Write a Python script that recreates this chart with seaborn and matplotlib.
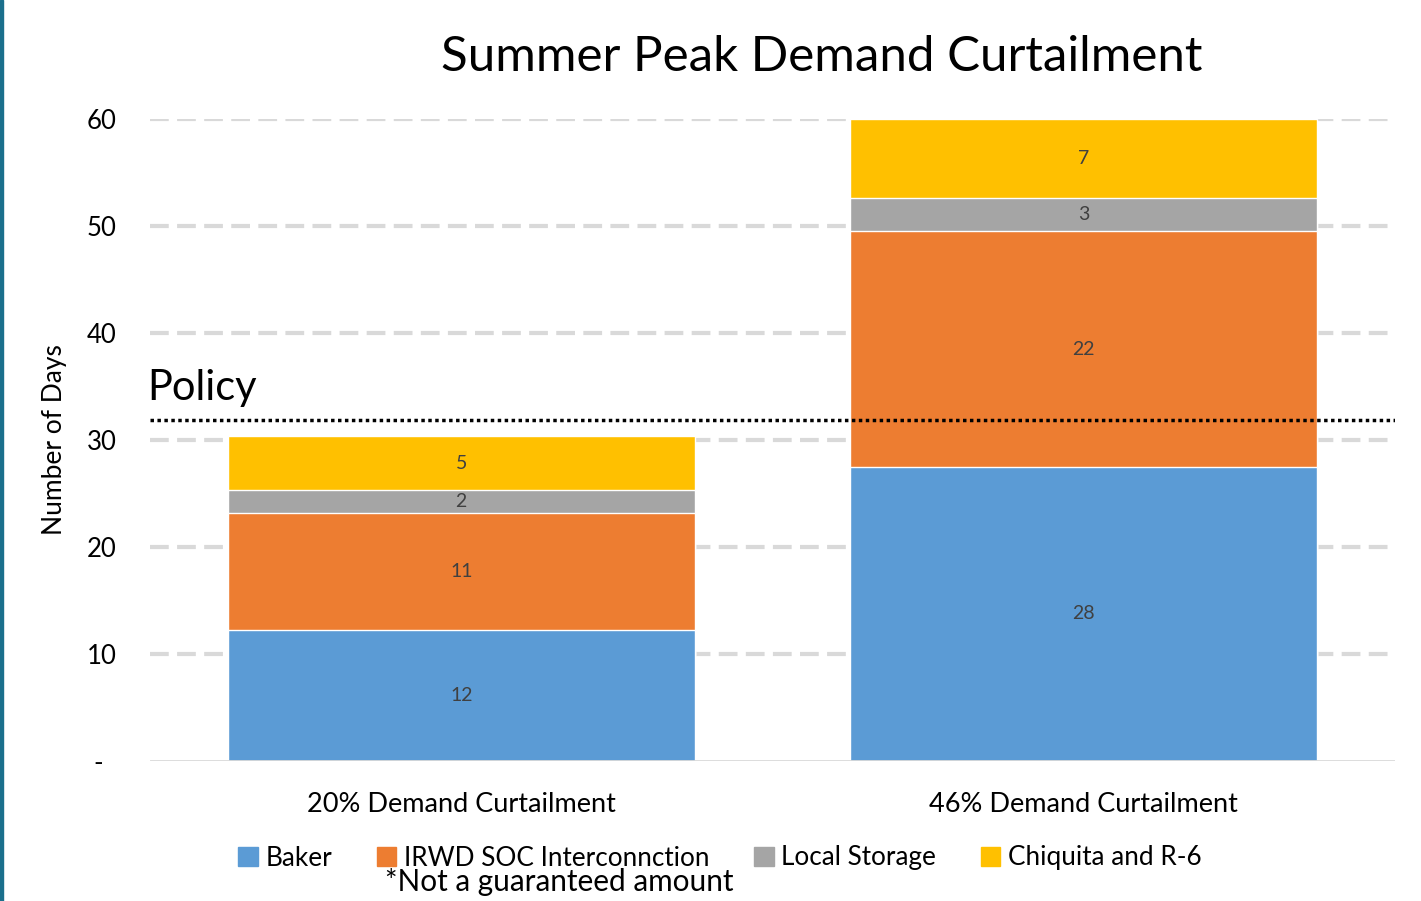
import numpy as np
import pandas as pd
import matplotlib.pyplot as plt
import matplotlib.transforms as mtransforms
import seaborn as sns
from matplotlib.patches import Patch

sns.set_theme(style="white")
plt.rcParams['font.family'] = ['Lato', 'DejaVu Sans']
plt.rcParams['text.color'] = 'black'
plt.rcParams['axes.labelcolor'] = 'black'
plt.rcParams['xtick.color'] = 'black'
plt.rcParams['ytick.color'] = 'black'

# data
categories = ["20% Demand Curtailment", "46% Demand Curtailment"]
series = ["Baker", "IRWD SOC Interconnction", "Local Storage", "Chiquita and R-6"]
baker = [12.2, 27.5]
irwd = [11.0, 22.0]
local_storage = [2.1, 3.1]
chiquita = [5.1, 7.4]
policy_days = 31.9
colors = ["#5b9bd5", "#ed7d31", "#a5a5a5", "#ffc000"]

df = pd.DataFrame({"category": categories, "Baker": baker,
                   "IRWD SOC Interconnction": irwd,
                   "Local Storage": local_storage,
                   "Chiquita and R-6": chiquita})
cum = df[series].cumsum(axis=1)

fig = plt.figure(figsize=(14.21, 9.01), dpi=100)
ax = fig.add_axes([150/1421, 1-761/901, 1245/1421, 642/901])

# stacked bars: draw cumulative totals, tallest first
for s, c in reversed(list(zip(series, colors))):
    sns.barplot(x=df["category"], y=cum[s], color=c, width=0.75, saturation=1,
                edgecolor="white", linewidth=1, ax=ax, zorder=3)

# segment labels
for i in range(len(categories)):
    for s in series:
        v = df.loc[i, s]
        mid = cum.loc[i, s] - v / 2
        ax.text(i, mid, f"{v:.0f}", ha="center", va="center",
                fontsize=14, color="#404040", zorder=5)

ax.set_xlim(-0.5, 1.5)
ax.set_ylim(0, 60)
ax.set_yticks(range(0, 61, 10))
ax.set_yticklabels(["-"] + [str(t) for t in range(10, 61, 10)], fontsize=18.5)
ax.tick_params(axis="x", labelsize=19.5, pad=22, length=0)
ax.tick_params(axis="y", pad=24, length=0)
# the zero label "-" sits a bit further left in the original
dash = ax.get_yticklabels()[0]
dash.set_transform(dash.get_transform() +
                   mtransforms.ScaledTranslation(-0.14, 0, fig.dpi_scale_trans))
ax.set_xlabel("")
ax.set_ylabel("Number of Days", fontsize=19, labelpad=14)
for t in range(10, 61, 10):
    ax.axhline(t, color="#d9d9d9", lw=3, ls=(0, (4.5, 2)), zorder=1)
ax.axhline(0, color="#d9d9d9", lw=2, zorder=4)
for sp in ax.spines.values():
    sp.set_visible(False)

# policy line
ax.axhline(policy_days, color="black", lw=2.5, ls=(0, (1, 1)), zorder=6)
ax.text(-0.505, policy_days + 1.2, "Policy", fontsize=30, ha="left", va="bottom")

fig.text(822/1421, 1-57/901, "Summer Peak Demand Curtailment", fontsize=35.5,
         ha="center", va="center")

handles = [Patch(color=c, label=s) for s, c in zip(series, colors)]
fig.legend(handles=handles, loc="center", bbox_to_anchor=(720/1421, 1-858/901),
           ncol=4, frameon=False, fontsize=18.8, handlelength=0.75, handleheight=0.75,
           columnspacing=1.7, handletextpad=0.3)
fig.text(385/1421, 1-882/901, "*Not a guaranteed amount", fontsize=21.4,
         ha="left", va="center")

# teal left border
fig.add_artist(plt.Rectangle((0, 0), 3/1421, 1, transform=fig.transFigure,
                             color="#1b6f8c"))

fig.savefig("out.png", dpi=100)
